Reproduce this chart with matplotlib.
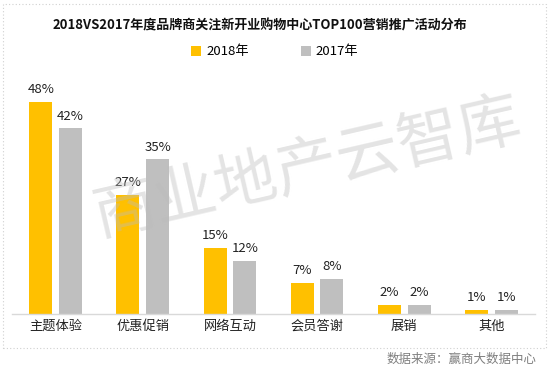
import numpy as np
import matplotlib.pyplot as plt
from matplotlib.patches import Rectangle

plt.rcParams['font.family'] = ['Noto Sans CJK SC', 'DejaVu Sans']

# Data
categories = ["主题体验", "优惠促销", "网络互动", "会员答谢", "展销", "其他"]
values_2018 = [48, 27, 15, 7, 2, 1]
values_2017 = [42, 35, 12, 8, 2, 1]
series_names = ["2018年", "2017年"]

color_2018 = "#FFC000"
color_2017 = "#BFBFBF"

fig = plt.figure(figsize=(5.5, 3.7), dpi=100)
ax = fig.add_axes([12 / 550, 1 - 314 / 370, 523 / 550, 221 / 370])

x = np.arange(len(categories))
w = 0.265
off = 0.17
b1 = ax.bar(x - off, values_2018, w, color=color_2018, label=series_names[0])
b2 = ax.bar(x + off, values_2017, w, color=color_2017, label=series_names[1])

for bars, vals in ((b1, values_2018), (b2, values_2017)):
    for rect, v in zip(bars, vals):
        ax.text(rect.get_x() + rect.get_width() / 2, rect.get_height() + 1.3,
                f"{v}%", ha="center", va="bottom", fontsize=9.5, color="#222222")

ax.set_xlim(-0.5, 5.5)
ax.set_ylim(0, 50)
ax.set_yticks([])
ax.set_xticks(x)
ax.set_xticklabels(categories, fontsize=9.5, color="#222222")
ax.tick_params(axis="x", length=0, pad=4)
for s in ("top", "left", "right"):
    ax.spines[s].set_visible(False)
ax.spines["bottom"].set_color("#D9D9D9")
ax.spines["bottom"].set_linewidth(1)
ax.patch.set_alpha(0)

# title and legend
fig.text(0.473, 1 - 25 / 370, "2018VS2017年度品牌商关注新开业购物中心TOP100营销推广活动分布",
         ha="center", va="center", fontsize=9.4, fontweight="bold", color="#111111")
fig.legend(handles=[b1, b2], labels=series_names, loc="center",
           bbox_to_anchor=(0.5, 1 - 52 / 370), ncol=2, frameon=False,
           fontsize=9.5, handlelength=0.7, handleheight=0.7, columnspacing=4,
           handletextpad=0.4)

# watermark
fig.text(307 / 550, 1 - 168 / 370, "商业地产云智库", ha="center", va="center",
         fontsize=45, rotation=13, color="#BBBBBB", alpha=0.4, zorder=0)

# dotted frame and source note
fig.patches.append(Rectangle((3 / 550, 1 - 348 / 370), 543 / 550, 344 / 370,
                             transform=fig.transFigure, fill=False,
                             edgecolor="#D0D0D0", linestyle=(0, (1, 2)), linewidth=0.8))
fig.text(537 / 550, 1 - 359 / 370, "数据来源：赢商大数据中心", ha="right", va="center",
         fontsize=9, color="#7F7F7F")

fig.savefig("out.png", dpi=100)
